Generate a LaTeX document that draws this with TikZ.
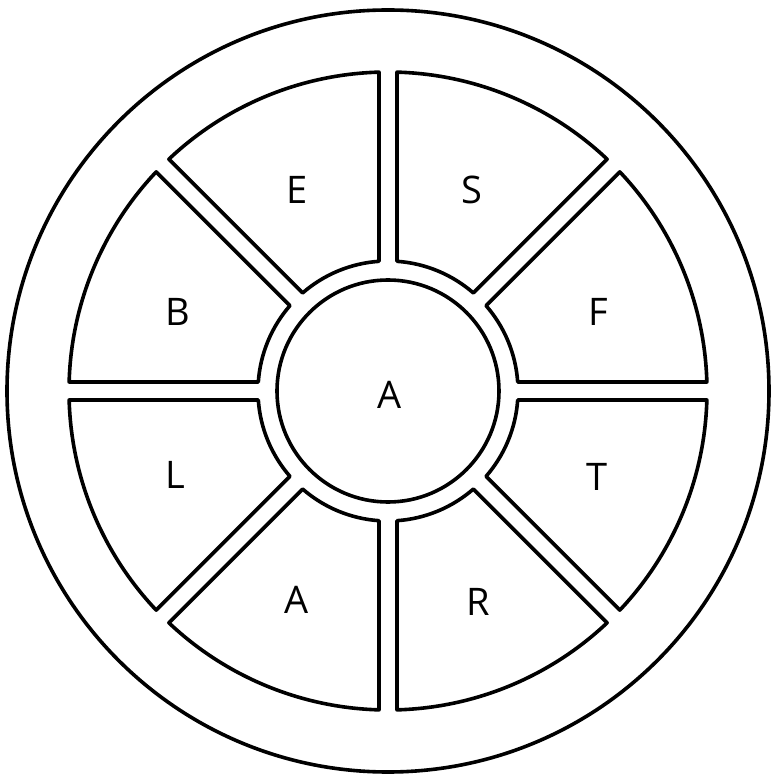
\documentclass[tikz,border=0pt]{standalone}
\usepackage{fontspec}
\setmainfont{Open Sans}
\begin{document}
\begin{tikzpicture}[x=1pt,y=1pt,
  ln/.style={line width=3.6pt, line join=round},
  lab/.style={font=\fontsize{38}{38}\selectfont, inner sep=0pt}]
\useasboundingbox (-388,-387) rectangle (383,391);
\def\rin{130}
\def\rout{319}
\pgfmathsetmacro\din{asin(9/130)}
\pgfmathsetmacro\dout{asin(9/319)}
% outer circle
\draw[ln] (0,0) circle (381);
% centre circle
\node[ln, draw, circle, minimum size=222pt, inner sep=0pt] (hub) at (0,0) {};
\node[lab] (ac) at (2,-4) {A};
% segments
\foreach \a in {0,45,...,315}{
  \pgfmathsetmacro\sa{\a+\dout}
  \pgfmathsetmacro\ea{\a+45-\dout}
  \pgfmathsetmacro\si{\a+45-\din}
  \pgfmathsetmacro\ei{\a+\din}
  \draw[ln] (\sa:\rout) arc[start angle=\sa, end angle=\ea, radius=\rout]
     -- (\si:\rin) arc[start angle=\si, end angle=\ei, radius=\rin] -- cycle;
}
\node[lab] (e) at (-91,201) {E};
\node[lab] (s) at (84,201) {S};
\node[lab] (b) at (-210,79) {B};
\node[lab] (f) at (210,79) {F};
\node[lab] (l) at (-213,-84) {L};
\node[lab] (t) at (209,-86) {T};
\node[lab] (a) at (-91,-209) {A};
\node[lab] (r) at (90,-211) {R};
\end{tikzpicture}
\end{document}
